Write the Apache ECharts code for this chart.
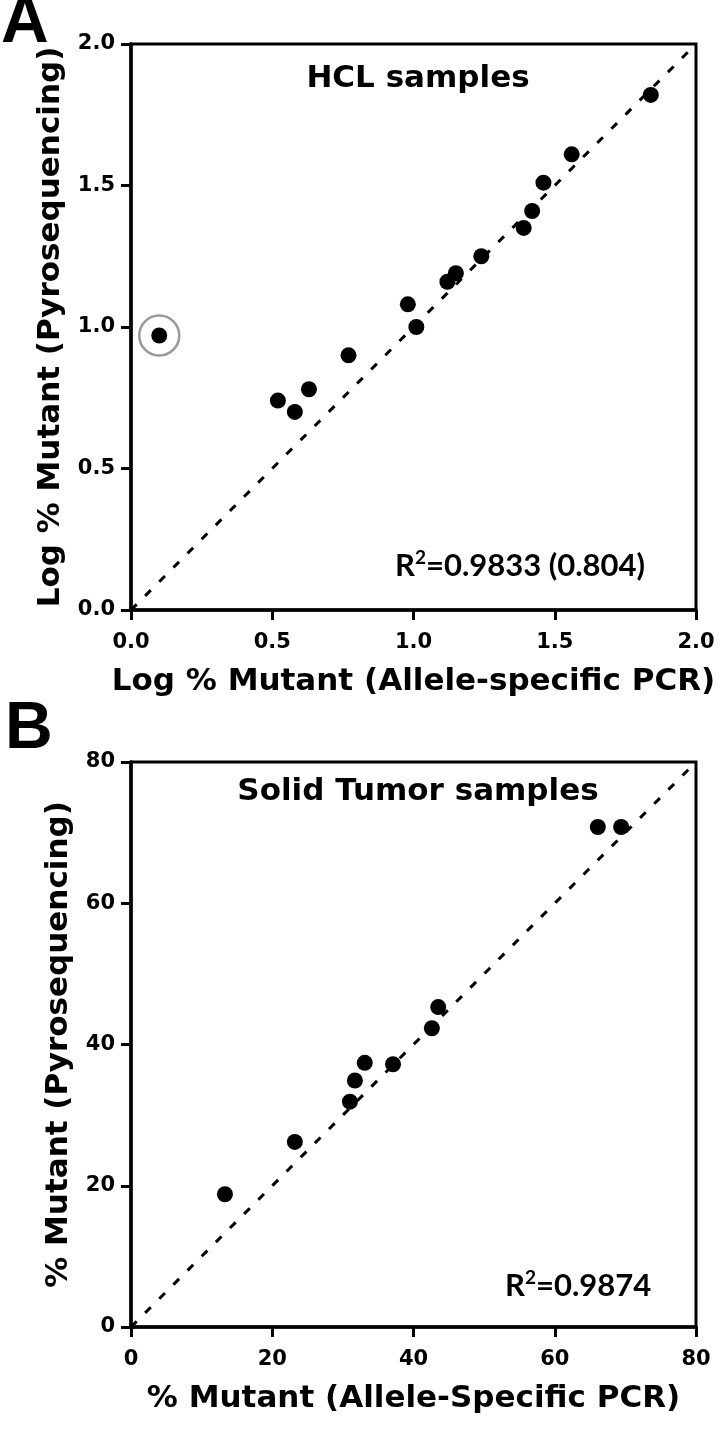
<!DOCTYPE html>
<html>
<head>
<meta charset="utf-8">
<script src="https://cdn.jsdelivr.net/npm/echarts@6/dist/echarts.min.js"></script>
<style>
  html, body { margin: 0; padding: 0; background: #fff; }
  #chart { width: 719px; height: 1429px; }
</style>
</head>
<body>
<div id="chart"></div>
<script>
// panel A: HCL samples (log scale values)
const hclX = [0.52, 0.58, 0.63, 0.77, 0.98, 1.01, 1.12, 1.15, 1.24, 1.39, 1.42, 1.46, 1.56, 1.84];
const hclY = [0.74, 0.70, 0.78, 0.90, 1.08, 1.00, 1.16, 1.19, 1.25, 1.35, 1.41, 1.51, 1.61, 1.82];
// the circled outlier
const outlierX = [0.10];
const outlierY = [0.97];
const hclDiag = [0, 2];

// panel B: solid tumor samples (%)
const solidX = [13.3, 23.2, 31.0, 31.7, 33.1, 37.1, 42.6, 43.5, 66.1, 69.4];
const solidY = [18.8, 26.2, 31.9, 34.9, 37.4, 37.2, 42.3, 45.3, 70.8, 70.8];
const solidDiag = [0, 80];

const hclTicks = [0, 2, 0.5];   // min, max, interval
const solidTicks = [0, 80, 20];

const FONT = 'DejaVu Sans';
const zip = (xs, ys) => xs.map((x, i) => [x, ys[i]]);

const chart = echarts.init(document.getElementById('chart'));

function axis(gridIndex, ticks, name, nameGap, isY, digits) {
  return {
    type: 'value',
    gridIndex,
    min: ticks[0], max: ticks[1], interval: ticks[2],
    name,
    nameLocation: 'middle',
    nameGap,
    nameTextStyle: { fontFamily: FONT, fontWeight: 'bold', fontSize: 31, color: '#000' },
    axisLine: { show: true, onZero: false, lineStyle: { color: '#000', width: 3.5 } },
    axisTick: { show: true, length: 10, lineStyle: { color: '#000', width: 3 } },
    axisLabel: {
      fontFamily: FONT, fontSize: 21, fontWeight: 'bold', color: '#000',
      margin: isY ? 16 : 22,
      formatter: v => v.toFixed(digits)
    },
    splitLine: { show: false }
  };
}

// R² labels, superscript done with rich text
function r2Text(rest) {
  return {
    text: '{a|R}{s|2}{a|' + rest + '}',
    rich: {
      a: { fontFamily: 'Lato', fontWeight: 'bold', fontSize: 31, fill: '#000', lineHeight: 36 },
      s: { fontFamily: 'Lato', fontWeight: 'bold', fontSize: 19, fill: '#000', lineHeight: 22, verticalAlign: 'top' }
    }
  };
}

const markerStyle = { color: '#000', opacity: 1 };
const diagStyle = { color: '#000', width: 3, type: [8, 12] };

chart.setOption({
  animation: false,
  backgroundColor: '#fff',
  grid: [
    { left: 131, top: 44, width: 565, height: 566, show: true, borderColor: '#000', borderWidth: 3 },
    { left: 131, top: 762, width: 565, height: 565, show: true, borderColor: '#000', borderWidth: 3 }
  ],
  xAxis: [
    axis(0, hclTicks, 'Log % Mutant (Allele-specific PCR)', 56, false, 1),
    axis(1, solidTicks, '% Mutant (Allele-Specific PCR)', 56, false, 0)
  ],
  yAxis: [
    axis(0, hclTicks, 'Log % Mutant (Pyrosequencing)', 63, true, 1),
    axis(1, solidTicks, '% Mutant (Pyrosequencing)', 56, true, 0)
  ],
  title: [
    { text: 'HCL samples', left: 413, top: 58, textAlign: 'center',
      textStyle: { fontFamily: FONT, fontWeight: 'bold', fontSize: 31, color: '#000' } },
    { text: 'Solid Tumor samples', left: 413, top: 771, textAlign: 'center',
      textStyle: { fontFamily: FONT, fontWeight: 'bold', fontSize: 31, color: '#000' } }
  ],
  graphic: [
    { type: 'text', left: 1, top: -9, style: { text: 'A', font: 'bold 66px "Liberation Sans"', fill: '#000' } },
    { type: 'text', left: 5, top: 697, style: { text: 'B', font: 'bold 66px "Liberation Sans"', fill: '#000' } },
    { type: 'text', left: 395, top: 548, style: r2Text('=0.9833 (0.804)') },
    { type: 'text', left: 505, top: 1268, style: r2Text('=0.9874') }
  ],
  series: [
    { type: 'line', xAxisIndex: 0, yAxisIndex: 0, data: zip(hclDiag, hclDiag),
      symbol: 'none', lineStyle: diagStyle, z: 1 },
    { type: 'scatter', xAxisIndex: 0, yAxisIndex: 0, data: zip(hclX, hclY),
      symbolSize: 16, itemStyle: markerStyle, z: 3 },
    { type: 'scatter', xAxisIndex: 0, yAxisIndex: 0, data: zip(outlierX, outlierY),
      symbolSize: 16, itemStyle: markerStyle, z: 3 },
    { type: 'scatter', xAxisIndex: 0, yAxisIndex: 0, data: zip(outlierX, outlierY),
      symbolSize: 40, itemStyle: { color: 'rgba(0,0,0,0)', borderColor: '#999', borderWidth: 2.5, opacity: 1 }, z: 2 },
    { type: 'line', xAxisIndex: 1, yAxisIndex: 1, data: zip(solidDiag, solidDiag),
      symbol: 'none', lineStyle: diagStyle, z: 1 },
    { type: 'scatter', xAxisIndex: 1, yAxisIndex: 1, data: zip(solidX, solidY),
      symbolSize: 16, itemStyle: markerStyle, z: 3 }
  ]
});
</script>
</body>
</html>
